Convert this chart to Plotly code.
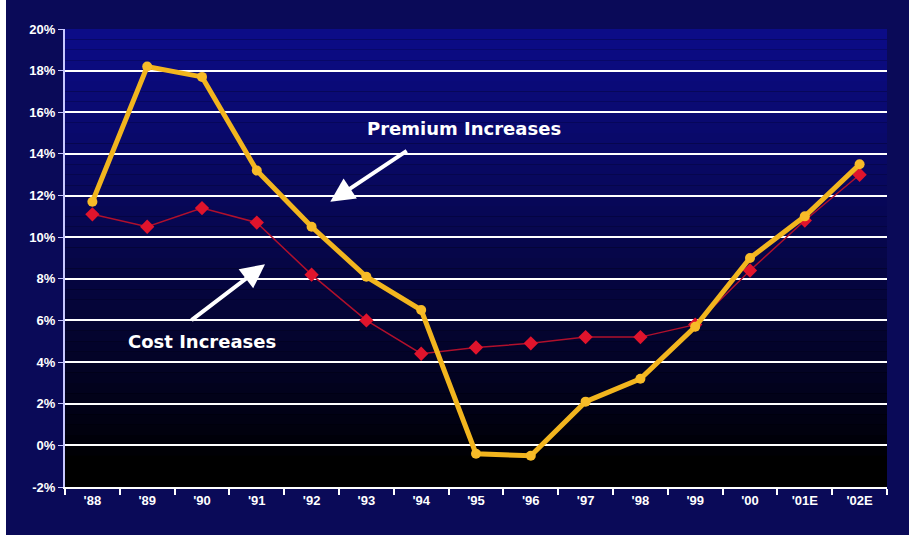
import plotly.graph_objects as go

years = ["'88", "'89", "'90", "'91", "'92", "'93", "'94", "'95", "'96", "'97", "'98", "'99", "'00", "'01E", "'02E"]
premium = [11.7, 18.2, 17.7, 13.2, 10.5, 8.1, 6.5, -0.4, -0.5, 2.1, 3.2, 5.7, 9.0, 11.0, 13.5]
cost = [11.1, 10.5, 11.4, 10.7, 8.2, 6.0, 4.4, 4.7, 4.9, 5.2, 5.2, 5.8, 8.4, 10.8, 13.0]
ytickvals = [-2, 0, 2, 4, 6, 8, 10, 12, 14, 16, 18, 20]

fig = go.Figure()
fig.add_trace(go.Scatter(x=years, y=cost, mode="lines+markers", name="Cost Increases",
                         line=dict(color="#b0102c", width=1.5),
                         marker=dict(symbol="diamond", size=11, color="#e0142c")))
fig.add_trace(go.Scatter(x=years, y=premium, mode="lines+markers", name="Premium Increases",
                         line=dict(color="#f2b51e", width=5),
                         marker=dict(symbol="circle", size=10, color="#f7bb28")))

# gradient plot background (blue to black)
shapes = []
n = 44
for i in range(n):
    t = i / (n - 1)  # 0 bottom -> 1 top
    f = min(1.0, max(0.0, (t - 0.05) / 0.95)) ** 0.85
    r = int(12 * f)
    g = int(12 * f)
    b = int(135 * f)
    shapes.append(dict(type="rect", xref="x domain", yref="y domain",
                       x0=0, x1=1, y0=i / n, y1=(i + 1) / n,
                       fillcolor=f"rgb({r},{g},{b})", line=dict(width=0), layer="below"))
# white strip at the left edge of the picture
shapes.append(dict(type="rect", xref="paper", yref="paper", x0=-65 / 822, x1=-59 / 822,
                   y0=-48 / 458, y1=(458 + 29) / 458, line=dict(width=0), fillcolor="white",
                   layer="below"))

annotations = [
    dict(x=7, y=15.2, xref="x", yref="y", text="<b>Premium Increases</b>", showarrow=False,
         font=dict(color="white", size=18, family="Verdana, DejaVu Sans, sans-serif"), xshift=-12),
    dict(x=2.0, y=5.0, xref="x", yref="y", text="<b>Cost Increases</b>", showarrow=False,
         font=dict(color="white", size=18, family="Verdana, DejaVu Sans, sans-serif"), xshift=0),
    dict(x=4.34, y=11.7, xref="x", yref="y", text="", showarrow=True, arrowhead=2,
         arrowsize=1.2, arrowwidth=4, arrowcolor="white", ax=78, ay=-52),
    dict(x=3.15, y=8.7, xref="x", yref="y", text="", showarrow=True, arrowhead=2,
         arrowsize=1.2, arrowwidth=4, arrowcolor="white", ax=-75, ay=57),
]

fig.update_layout(
    width=909, height=535,
    margin=dict(l=65, r=22, t=29, b=48),
    paper_bgcolor="#0a0a58",
    plot_bgcolor="#000000",
    showlegend=False,
    shapes=shapes,
    annotations=annotations,
    font=dict(family="Arial, Liberation Sans, sans-serif", color="white", size=12),
)
fig.update_xaxes(type="category", tickson="boundaries", ticks="outside", ticklen=6,
                 tickcolor="white", tickwidth=2, showline=True, linecolor="white", linewidth=2,
                 showgrid=False,
                 tickfont=dict(color="white", size=13, weight="bold", family="Arial, Liberation Sans, sans-serif"),
                 range=[-0.5, 14.5])
fig.update_yaxes(range=[-2, 20], tickvals=ytickvals, ticktext=[f"{v}%" for v in ytickvals],
                 ticks="outside", ticklen=5, tickcolor="#c8c8ff", showline=True, linecolor="#c8c8ff",
                 linewidth=2, showgrid=True, gridcolor="white", gridwidth=2, zeroline=False,
                 tickfont=dict(color="white", size=13, weight="bold", family="Arial, Liberation Sans, sans-serif"))

fig.write_html("out.html")
